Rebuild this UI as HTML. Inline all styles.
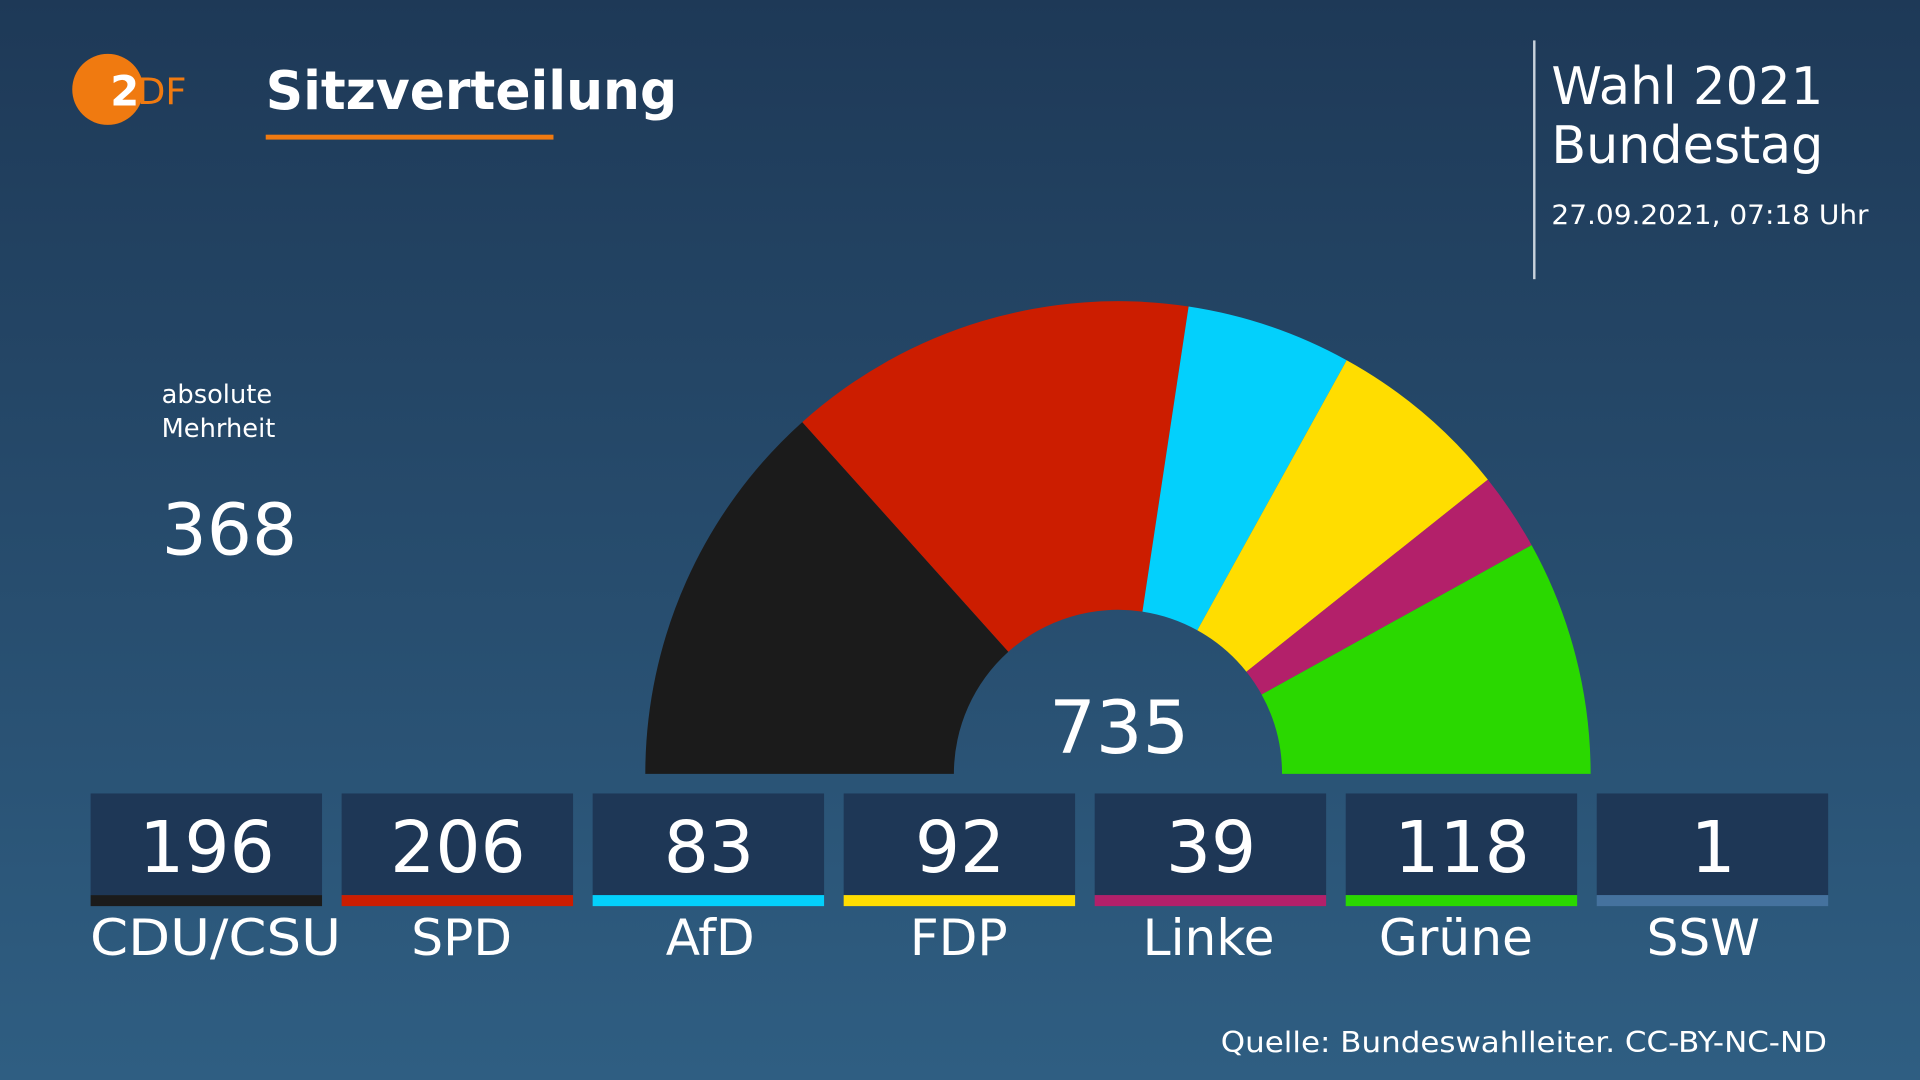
<!DOCTYPE html>
<html><head><meta charset="utf-8"><style>
html,body{margin:0;padding:0;width:1920px;height:1080px;overflow:hidden;}
svg{display:block}
text{font-family:"DejaVu Sans","Liberation Sans",sans-serif;fill:#fff}
</style></head><body>
<svg width="1920" height="1080" viewBox="0 0 1568 882" preserveAspectRatio="none">
<defs><linearGradient id="bg" x1="0" y1="0" x2="0" y2="1">
<stop offset="0" stop-color="#1e3957"/><stop offset="1" stop-color="#2f5e82"/></linearGradient></defs>
<rect width="1568" height="882" fill="url(#bg)"/>
<circle cx="88" cy="73" r="29" fill="#f07a10"/>
<text x="90" y="86" font-size="34" font-weight="bold" style="fill:#fff">2</text>
<text x="112" y="85" font-size="30" style="fill:#f07a10">DF</text>
<text x="217" y="89" font-size="44" font-weight="bold" textLength="336" lengthAdjust="spacingAndGlyphs">Sitzverteilung</text>
<rect x="217" y="110" width="235" height="4" fill="#f07a10"/>
<rect x="1252" y="33" width="2" height="195" fill="#c8d2dc"/>
<text x="1267" y="85" font-size="42" textLength="222" lengthAdjust="spacingAndGlyphs">Wahl 2021</text>
<text x="1267" y="133" font-size="42" textLength="222" lengthAdjust="spacingAndGlyphs">Bundestag</text>
<text x="1267" y="183" font-size="22" textLength="259" lengthAdjust="spacingAndGlyphs">27.09.2021, 07:18 Uhr</text>
<text x="132" y="329" font-size="21">absolute</text>
<text x="132" y="357" font-size="21">Mehrheit</text>
<text x="132" y="453" font-size="58">368</text>
<path d="M527,632 A386,386 0 0 1 655.2,344.7 L823.5,532.3 A134,134 0 0 0 779,632Z" fill="#1b1b1b"/>
<path d="M655.2,344.7 A386,386 0 0 1 970.7,250.3 L933,499.5 A134,134 0 0 0 823.5,532.3Z" fill="#cc1d00"/>
<path d="M970.7,250.3 A386,386 0 0 1 1099.8,294.2 L977.8,514.7 A134,134 0 0 0 933,499.5Z" fill="#03d0fc"/>
<path d="M1099.8,294.2 A386,386 0 0 1 1215.1,391.7 L1017.9,548.6 A134,134 0 0 0 977.8,514.7Z" fill="#ffdd00"/>
<path d="M1215.1,391.7 A386,386 0 0 1 1250.8,445.2 L1030.3,567.2 A134,134 0 0 0 1017.9,548.6Z" fill="#b3206a"/>
<path d="M1250.8,445.2 A386,386 0 0 1 1299,632 L1047,632 A134,134 0 0 0 1030.3,567.2Z" fill="#2ad800"/>
<text x="914" y="615" font-size="60" text-anchor="middle">735</text>
<g font-size="58" text-anchor="middle">
<rect x="74" y="648" width="189" height="83" fill="#1e3756"/><rect x="74" y="731" width="189" height="9" fill="#1b1b1b"/><text x="169" y="712">196</text>
<rect x="279" y="648" width="189" height="83" fill="#1e3756"/><rect x="279" y="731" width="189" height="9" fill="#cc1d00"/><text x="374" y="712">206</text>
<rect x="484" y="648" width="189" height="83" fill="#1e3756"/><rect x="484" y="731" width="189" height="9" fill="#03d0fc"/><text x="579" y="712">83</text>
<rect x="689" y="648" width="189" height="83" fill="#1e3756"/><rect x="689" y="731" width="189" height="9" fill="#ffdd00"/><text x="784" y="712">92</text>
<rect x="894" y="648" width="189" height="83" fill="#1e3756"/><rect x="894" y="731" width="189" height="9" fill="#b3206a"/><text x="989" y="712">39</text>
<rect x="1099" y="648" width="189" height="83" fill="#1e3756"/><rect x="1099" y="731" width="189" height="9" fill="#2ad800"/><text x="1194" y="712">118</text>
<rect x="1304" y="648" width="189" height="83" fill="#1e3756"/><rect x="1304" y="731" width="189" height="9" fill="#45729e"/><text x="1399" y="712">1</text>
</g>
<g font-size="41" text-anchor="middle" font-weight="500">
<text x="176" y="780" textLength="205" lengthAdjust="spacingAndGlyphs">CDU/CSU</text>
<text x="377" y="780">SPD</text>
<text x="580" y="780">AfD</text>
<text x="783" y="780">FDP</text>
<text x="987" y="780">Linke</text>
<text x="1189" y="780">Grüne</text>
<text x="1391" y="780">SSW</text>
</g>
<text x="1492" y="859" font-size="23" text-anchor="end" textLength="495" lengthAdjust="spacingAndGlyphs">Quelle: Bundeswahlleiter. CC-BY-NC-ND</text>
</svg>
</body></html>
